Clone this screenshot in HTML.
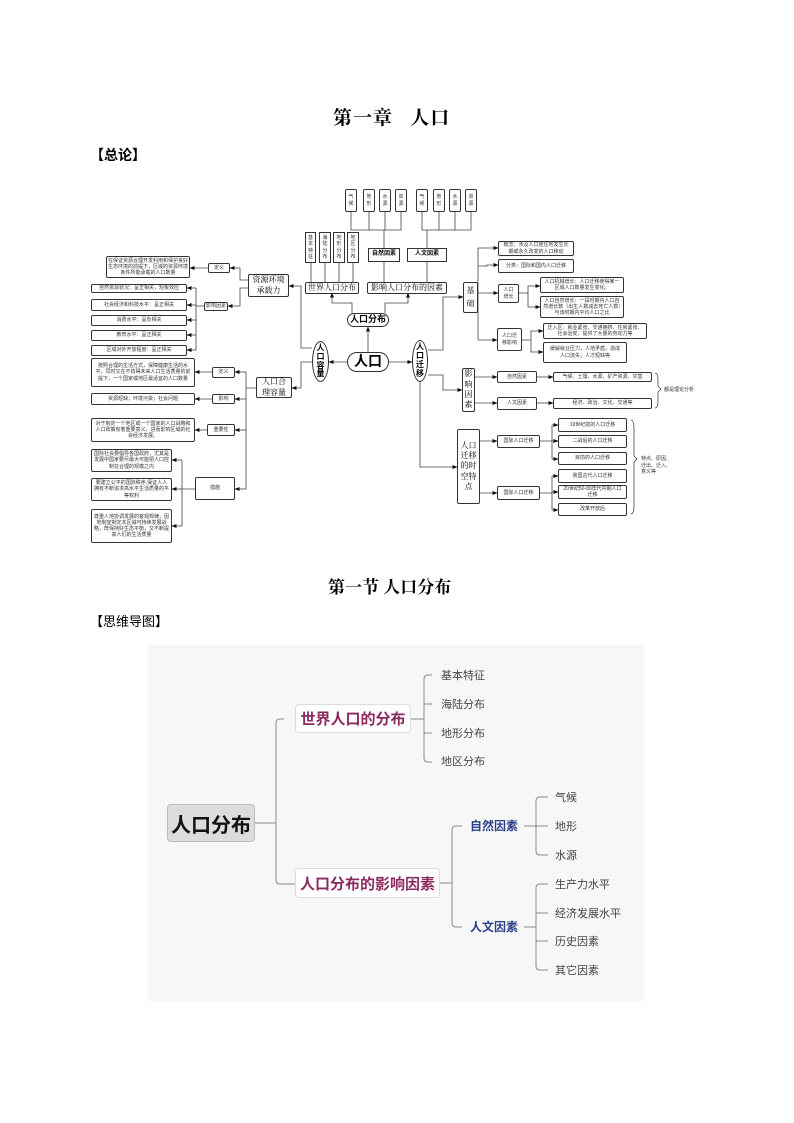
<!DOCTYPE html>
<html><head><meta charset="utf-8">
<style>
body{margin:0;width:794px;height:1123px;background:#fff;position:relative;overflow:hidden;font-family:"Liberation Serif","Noto Serif CJK SC","Noto Sans CJK SC",serif}
.t{position:absolute;white-space:nowrap;color:#000}
.b{position:absolute;box-sizing:border-box;border:1px solid #333;border-radius:2px;background:#fff;display:flex;align-items:center;justify-content:center;text-align:center;font-family:"Liberation Sans","Noto Sans CJK SC",sans-serif;font-size:5px;line-height:1.25;color:#333;padding:0 1px}
.v{padding:0 3px;word-break:break-all;white-space:normal}
.s{font-family:"Liberation Serif","Noto Serif CJK SC",serif;font-size:8px;color:#000;white-space:nowrap}
.k{font-weight:bold;font-size:6px;color:#000}
.m{position:absolute;font-family:"Liberation Sans","Noto Sans CJK SC",sans-serif;white-space:nowrap}
</style></head><body>
<div class="t" style="left:333px;top:103px;font-size:19px;font-weight:bold;letter-spacing:1px">第一章&nbsp;&nbsp;&nbsp;人口</div>
<div class="t" style="left:90px;top:145px;font-size:14px;font-weight:bold;font-family:'Noto Sans CJK SC',sans-serif">【总论】</div>
<div class="t" style="left:328px;top:573px;font-size:17px;font-weight:bold">第一节 人口分布</div>
<div class="t" style="left:90px;top:611px;font-size:13px;font-family:'Noto Sans CJK SC',sans-serif">【思维导图】</div>

<svg style="position:absolute;left:0;top:0" width="794" height="560">
<defs><marker id="a" markerWidth="5" markerHeight="5" refX="4.5" refY="2.5" orient="auto" markerUnits="userSpaceOnUse"><path d="M0,0.5 L5,2.5 L0,4.5z" fill="#111"/></marker></defs>
<g stroke="#444" stroke-width="0.8" fill="none">
<path d="M368 352V327" marker-end="url(#a)"/>
<path d="M352 313V303H332V293" marker-end="url(#a)"/>
<path d="M385 313V303H408V293" marker-end="url(#a)"/>
<path d="M311 263V283M325 263V283M339 263V283M353 263V283M384 262V283M427 262V283"/>
<path d="M384 248V230M351 212V230H401V212M369 212V230M385 212V230"/>
<path d="M427 248V230M422 212V230H471V212M439 212V230M455 212V230"/>
<path d="M347 362H329" marker-end="url(#a)"/>
<path d="M389 362H412" marker-end="url(#a)"/>
<path d="M312 348H301V286H289" marker-end="url(#a)"/>
<path d="M312 362H301V388H292" marker-end="url(#a)"/>
<path d="M248 280H240V268H230" marker-end="url(#a)"/>
<path d="M208 268H190" marker-end="url(#a)"/>
<path d="M248 288H240V306H228" marker-end="url(#a)"/>
<path d="M204 306H196"/><path d="M196 288V350"/>
<path d="M196 288H187" marker-end="url(#a)"/><path d="M196 305H187" marker-end="url(#a)"/><path d="M196 320H187" marker-end="url(#a)"/><path d="M196 335H187" marker-end="url(#a)"/><path d="M196 350H187" marker-end="url(#a)"/>
<path d="M256 388H246M246 372V489"/>
<path d="M246 372H235" marker-end="url(#a)"/><path d="M246 399H235" marker-end="url(#a)"/><path d="M246 430H235" marker-end="url(#a)"/><path d="M246 489H235" marker-end="url(#a)"/>
<path d="M212 372H195" marker-end="url(#a)"/><path d="M212 399H195" marker-end="url(#a)"/><path d="M207 430H195" marker-end="url(#a)"/>
<path d="M195 489H182M182 460V526"/>
<path d="M182 460H172" marker-end="url(#a)"/><path d="M182 489H172" marker-end="url(#a)"/><path d="M182 526H172" marker-end="url(#a)"/>
<path d="M428 350H443V297H463" marker-end="url(#a)"/>
<path d="M478 248V340"/>
<path d="M478 248H498" marker-end="url(#a)"/><path d="M478 266H487V265H498" marker-end="url(#a)"/><path d="M478 293H498" marker-end="url(#a)"/><path d="M478 340H497" marker-end="url(#a)"/>
<path d="M519 293H528V286H540" marker-end="url(#a)"/><path d="M528 293V307H540" marker-end="url(#a)"/>
<path d="M522 340H531V331H543" marker-end="url(#a)"/><path d="M531 340V352H543" marker-end="url(#a)"/>
<path d="M428 375H443V390H462" marker-end="url(#a)"/>
<path d="M475 377H497" marker-end="url(#a)"/><path d="M475 403H497" marker-end="url(#a)"/>
<path d="M537 377H553" marker-end="url(#a)"/><path d="M537 403H553" marker-end="url(#a)"/>
<path d="M420 382V467H457" marker-end="url(#a)"/>
<path d="M480 441H497" marker-end="url(#a)"/><path d="M480 493H497" marker-end="url(#a)"/>
<path d="M540 441H552M552 425V459"/>
<path d="M552 425H558" marker-end="url(#a)"/><path d="M552 441H558" marker-end="url(#a)"/><path d="M552 459H558" marker-end="url(#a)"/>
<path d="M540 493H552M552 476V510"/>
<path d="M552 476H558" marker-end="url(#a)"/><path d="M552 492H558" marker-end="url(#a)"/><path d="M552 510H558" marker-end="url(#a)"/>
<path d="M655 373Q658 373 658 380V386L661 389L658 392V401Q658 408 655 408"/>
<path d="M631 420Q634 420 634 430V456L637 459L634 462V505Q634 514 631 514"/>
</g></svg>

<div class="b v" style="left:345px;top:189px;width:12px;height:23px">气候</div>
<div class="b v" style="left:363px;top:189px;width:12px;height:23px">地形</div>
<div class="b v" style="left:379px;top:189px;width:12px;height:23px">水源</div>
<div class="b v" style="left:395px;top:189px;width:12px;height:23px">资源</div>
<div class="b v" style="left:416px;top:189px;width:12px;height:23px">气候</div>
<div class="b v" style="left:433px;top:189px;width:12px;height:23px">地形</div>
<div class="b v" style="left:449px;top:189px;width:12px;height:23px">水源</div>
<div class="b v" style="left:465px;top:189px;width:12px;height:23px">资源</div>
<div class="b v" style="left:305px;top:232px;width:11px;height:31px;border-radius:0">基本特征</div>
<div class="b v" style="left:319px;top:232px;width:12px;height:31px;border-radius:0">海陆分布</div>
<div class="b v" style="left:333px;top:232px;width:12px;height:31px;border-radius:0">地形分布</div>
<div class="b v" style="left:347px;top:232px;width:12px;height:31px;border-radius:0">地区分布</div>
<div class="b k" style="left:368px;top:248px;width:32px;height:14px;border-radius:0">自然因素</div>
<div class="b k" style="left:407px;top:248px;width:40px;height:14px;border-radius:0">人文因素</div>
<div class="b s" style="left:305px;top:282px;width:54px;height:12px">世界人口分布</div>
<div class="b s" style="left:367px;top:282px;width:80px;height:12px">影响人口分布的因素</div>
<div class="b" style="left:347px;top:313px;width:42px;height:14px;border-radius:7px;font-weight:bold;font-size:9px;color:#000;white-space:nowrap">人口分布</div>
<div class="b" style="left:347px;top:352px;width:42px;height:20px;border-radius:10px;font-weight:bold;font-size:14px;color:#000">人口</div>
<div class="b v" style="left:312px;top:341px;width:17px;height:41px;border-radius:50%;font-weight:bold;font-size:8px;color:#000;line-height:1.1;padding:0 3px">人口容量</div>
<div class="b v" style="left:412px;top:340px;width:16px;height:42px;border-radius:50%;font-weight:bold;font-size:8px;color:#000;line-height:1.1;padding:0 3px">人口迁移</div>

<div class="b s" style="left:248px;top:274px;width:41px;height:23px;padding:0 2px;white-space:normal;line-height:1.3">资源环境承载力</div>
<div class="b" style="left:208px;top:263px;width:22px;height:10px">定义</div>
<div class="b" style="left:106px;top:256px;width:84px;height:22px">在保证资源合理开发利用和保护良好生态环境的前提下，区域的资源环境条件所能承载的人口数量</div>
<div class="b" style="left:204px;top:302px;width:24px;height:9px;white-space:nowrap">影响因素</div>
<div class="b" style="left:91px;top:284px;width:96px;height:9px">自然资源状况：呈正相关，短板效应</div>
<div class="b" style="left:91px;top:299px;width:96px;height:12px">社会经济和科技水平：呈正相关</div>
<div class="b" style="left:91px;top:315px;width:96px;height:11px">消费水平：呈负相关</div>
<div class="b" style="left:91px;top:330px;width:96px;height:11px">教育水平：呈正相关</div>
<div class="b" style="left:91px;top:345px;width:96px;height:11px">区域对外开放程度：呈正相关</div>
<div class="b s" style="left:256px;top:377px;width:36px;height:21px;padding:0 4px;white-space:normal;line-height:1.3">人口合理容量</div>
<div class="b" style="left:212px;top:367px;width:23px;height:11px">定义</div>
<div class="b" style="left:91px;top:358px;width:104px;height:29px;padding:0 2px">按照合理的生活方式，保障健康生活的水平，同时又在不妨碍未来人口生活质量的前提下，一个国家或地区最适宜的人口数量</div>
<div class="b" style="left:212px;top:394px;width:23px;height:10px">影响</div>
<div class="b" style="left:91px;top:393px;width:104px;height:12px">资源短缺；环境污染；社会问题</div>
<div class="b" style="left:207px;top:424px;width:28px;height:12px">重要性</div>
<div class="b" style="left:91px;top:418px;width:104px;height:24px;padding:0 3px">对于制定一个地区或一个国家的人口战略和人口政策有着重要意义，进而影响区域的社会经济发展。</div>
<div class="b" style="left:195px;top:477px;width:40px;height:23px">措施</div>
<div class="b" style="left:91px;top:449px;width:81px;height:23px;padding:0 2px">国际社会要倡导各国政府，尤其是发展中国家要尽最大可能把人口控制在合理的规模之内</div>
<div class="b" style="left:91px;top:478px;width:81px;height:23px;padding:0 2px">要建立公平的国际秩序,保证人人拥有不断追求高水平生活质量的平等权利</div>
<div class="b" style="left:91px;top:509px;width:81px;height:34px;padding:0 2px">尊重人地协调发展的客观规律，因地制宜制定本区域可持续发展战略，既保持好生态平衡，又不断提高人们的生活质量</div>

<div class="b v s" style="left:463px;top:282px;width:15px;height:31px;padding:0 3px;line-height:1.6;white-space:normal">基础</div>
<div class="b" style="left:498px;top:241px;width:76px;height:15px;padding:0 3px">概念：涉及人口居住地发生长期或永久改变的人口移动</div>
<div class="b" style="left:498px;top:259px;width:76px;height:14px">分类：国际和国内人口迁移</div>
<div class="b" style="left:498px;top:284px;width:21px;height:19px;padding:0 4px">人口增长</div>
<div class="b" style="left:540px;top:277px;width:84px;height:16px;padding:0 3px">人口机械增长：人口迁移使得某一区域人口数量发生变化。</div>
<div class="b" style="left:540px;top:296px;width:84px;height:22px;padding:0 2px">人口自然增长：一段时期内人口自然增长数（出生人数减去死亡人数）与该时期内平均人口之比</div>
<div class="b" style="left:497px;top:328px;width:25px;height:23px;padding:0 2px">人口迁移影响</div>
<div class="b" style="left:543px;top:323px;width:104px;height:16px;padding:0 3px">迁入区：就业紧张、交通拥挤、住房紧张、社会治安，提供了大量的劳动力等</div>
<div class="b" style="left:543px;top:342px;width:84px;height:21px;padding:0 5px">缓解就业压力，人地矛盾，造成人口流失，人才短缺等</div>
<div class="b v s" style="left:462px;top:368px;width:13px;height:44px;padding:0 2px;line-height:1.3;white-space:normal">影响因素</div>
<div class="b" style="left:497px;top:371px;width:40px;height:12px">自然因素</div>
<div class="b" style="left:497px;top:397px;width:40px;height:13px">人文因素</div>
<div class="b" style="left:553px;top:372px;width:99px;height:10px">气候、土壤、水源、矿产资源、灾害</div>
<div class="b" style="left:553px;top:398px;width:99px;height:11px">经济、政治、文化、交通等</div>
<div class="m" style="left:664px;top:386px;font-size:5px;color:#333">都是理论分析</div>
<div class="b v s" style="left:457px;top:429px;width:23px;height:75px;padding:0 2px;line-height:1.3;white-space:normal;font-size:8px">人口迁移的时空特点</div>
<div class="b" style="left:497px;top:435px;width:43px;height:13px">国际人口迁移</div>
<div class="b" style="left:497px;top:486px;width:43px;height:14px">国际人口迁移</div>
<div class="b" style="left:558px;top:418px;width:69px;height:14px">19世纪前的人口迁移</div>
<div class="b" style="left:558px;top:435px;width:69px;height:13px">二战后的人口迁移</div>
<div class="b" style="left:558px;top:452px;width:69px;height:13px">目前的人口迁移</div>
<div class="b" style="left:558px;top:469px;width:69px;height:14px">我国古代人口迁移</div>
<div class="b" style="left:558px;top:485px;width:69px;height:14px;padding:0 4px">20世纪50-80年代中期人口迁移</div>
<div class="b" style="left:558px;top:503px;width:69px;height:13px">改革开放后</div>
<div class="m" style="left:641px;top:456px;font-size:5px;line-height:1.3;color:#333;white-space:normal;width:32px">特点、原因、迁出、迁入、意义等</div>

<div style="position:absolute;left:148px;top:645px;width:496px;height:356px;background:#f7f7f7"></div>
<svg style="position:absolute;left:0;top:0" width="794" height="1123">
<g stroke="#8a8a8a" stroke-width="1" fill="none">
<path d="M255 823H276M284 719H280Q276 719 276 723V880Q276 884 280 884H295"/>
<path d="M411 719H424M432 675H428Q424 675 424 679V758Q424 762 428 762H432M424 704H432M424 733H432"/>
<path d="M440 883H452M462 826H456Q452 826 452 830V923Q452 927 456 927H462"/>
<path d="M524 826H536M548 797H540Q536 797 536 801V851Q536 855 540 855H548M536 826H548"/>
<path d="M524 927H536M548 884H540Q536 884 536 888V966Q536 970 540 970H548M536 913H548M536 941H548"/>
</g></svg>
<div class="m" style="left:167px;top:804px;width:88px;height:38px;box-sizing:border-box;background:#dcdcdc;border:1px solid #bbb;border-radius:4px;font-size:20px;font-weight:bold;display:flex;align-items:center;justify-content:center;color:#111">人口分布</div>
<div class="m" style="left:295px;top:704px;width:116px;height:29px;box-sizing:border-box;background:#fff;border:1px solid #ddd;border-radius:4px;font-size:15px;font-weight:bold;display:flex;align-items:center;justify-content:center;color:#8b2a5e">世界人口的分布</div>
<div class="m" style="left:295px;top:868px;width:145px;height:30px;box-sizing:border-box;background:#fff;border:1px solid #ddd;border-radius:4px;font-size:15px;font-weight:bold;display:flex;align-items:center;justify-content:center;color:#8b2a5e">人口分布的影响因素</div>
<div class="m" style="left:441px;top:667px;font-size:11px;color:#444">基本特征</div>
<div class="m" style="left:441px;top:696px;font-size:11px;color:#444">海陆分布</div>
<div class="m" style="left:441px;top:725px;font-size:11px;color:#444">地形分布</div>
<div class="m" style="left:441px;top:753px;font-size:11px;color:#444">地区分布</div>
<div class="m" style="left:470px;top:817px;font-size:12px;font-weight:bold;color:#2a3f8a">自然因素</div>
<div class="m" style="left:470px;top:918px;font-size:12px;font-weight:bold;color:#2a3f8a">人文因素</div>
<div class="m" style="left:555px;top:789px;font-size:11px;color:#444">气候</div>
<div class="m" style="left:555px;top:818px;font-size:11px;color:#444">地形</div>
<div class="m" style="left:555px;top:847px;font-size:11px;color:#444">水源</div>
<div class="m" style="left:555px;top:876px;font-size:11px;color:#444">生产力水平</div>
<div class="m" style="left:555px;top:905px;font-size:11px;color:#444">经济发展水平</div>
<div class="m" style="left:555px;top:933px;font-size:11px;color:#444">历史因素</div>
<div class="m" style="left:555px;top:962px;font-size:11px;color:#444">其它因素</div>
</body></html>
